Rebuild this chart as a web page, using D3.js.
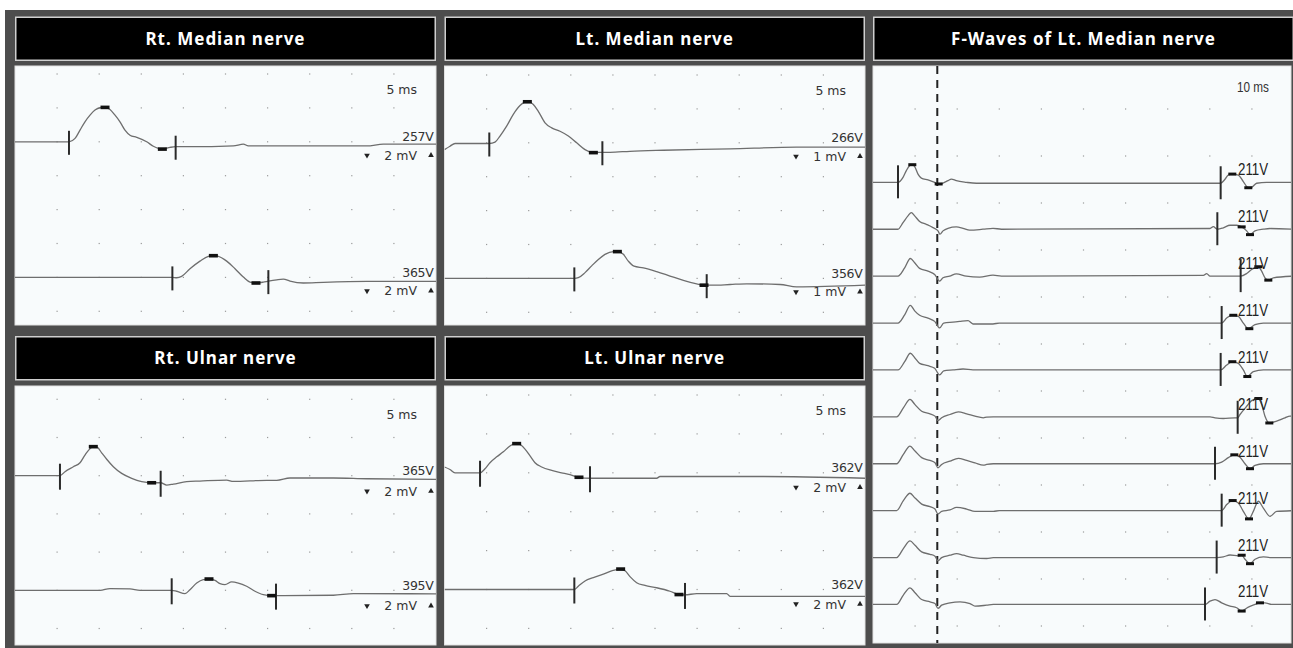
<!DOCTYPE html>
<html><head><meta charset="utf-8">
<script src="https://cdn.jsdelivr.net/npm/d3@7"></script>
<style>
html,body{margin:0;padding:0;background:#fff;}
svg{display:block;}
</style></head><body>
<svg id="chart" width="1293" height="648"></svg>
<script>
// ================= DATA =================
const panelTitles = ["Rt. Median nerve", "Lt. Median nerve", "Rt. Ulnar nerve", "Lt. Ulnar nerve", "F-Waves of Lt. Median nerve"];
const sweepLabels = ["5 ms", "5 ms", "5 ms", "5 ms", "10 ms"];

// Traces: [time ms, amplitude mV]
const rtMedianWrist = [[0,0],[6.41,0],[7.13,0.20],[7.72,0.69],[8.31,1.18],[8.91,1.57],[9.50,1.87],[10.10,2.01],[10.69,2.03],[11.28,1.91],[11.88,1.57],[12.47,1.18],[13.06,0.69],[13.66,0.39],[14.45,0.26],[15.64,0],[16.43,-0.26],[17.50,-0.43],[18.41,-0.33],[19.08,-0.29],[20.78,-0.29],[25.93,-0.24],[27.12,-0.14],[27.71,-0.24],[33.85,-0.24],[41.77,-0.24],[43.75,-0.14],[50,-0.14]];
const rtMedianElbow = [[0,0],[18.69,0],[19.20,-0.02],[19.79,0.06],[20.78,0.51],[21.97,0.96],[22.96,1.24],[23.56,1.28],[24.15,1.24],[25.14,0.96],[26.13,0.51],[27.12,0.02],[27.91,-0.28],[28.62,-0.33],[29.49,-0.28],[30.09,-0.22],[31.08,-0.14],[31.87,-0.10],[32.66,-0.22],[34.24,-0.33],[36.62,-0.29],[41.77,-0.24],[50,-0.24]];
const ltMedianWrist = [[0,-0.20],[0.65,-0.10],[1.25,-0.02],[5.32,-0.02],[6.00,0.02],[6.59,0.20],[7.38,0.49],[8.17,0.84],[8.97,1.10],[9.56,1.20],[10.08,1.21],[10.55,1.13],[11.14,0.93],[11.94,0.59],[12.73,0.44],[13.72,0.34],[14.71,0.20],[15.70,0],[16.69,-0.20],[17.68,-0.29],[18.75,-0.28],[19.66,-0.28],[22.03,-0.25],[25.99,-0.22],[33.91,-0.18],[41.82,-0.13],[50,-0.13]];
const ltMedianElbow = [[0,0],[15.42,0],[15.89,0.02],[16.69,0.17],[17.48,0.37],[18.27,0.56],[19.06,0.71],[20.05,0.79],[20.64,0.79],[21.24,0.71],[21.83,0.51],[22.51,0.36],[23.62,0.31],[25.20,0.20],[26.78,0.07],[28.37,-0.06],[29.95,-0.16],[30.82,-0.20],[31.93,-0.20],[33.91,-0.18],[35.89,-0.16],[39.85,-0.18],[41.82,-0.25],[50,-0.20]];
const rtUlnarWrist = [[0,0],[5.34,0],[5.94,0.21],[6.93,0.47],[7.72,0.68],[8.31,1.08],[8.83,1.38],[9.30,1.52],[9.78,1.48],[10.29,1.20],[10.89,0.86],[11.68,0.47],[12.67,0.12],[13.86,-0.14],[15.04,-0.31],[16.23,-0.37],[17.30,-0.37],[18.01,-0.49],[18.81,-0.44],[20.39,-0.31],[21.97,-0.28],[25.14,-0.23],[25.93,-0.30],[29.89,-0.24],[31.08,-0.24],[32.66,-0.12],[37.81,-0.12],[41.77,-0.16],[50,-0.19]];
const rtUlnarElbow = [[0,0],[10.10,0],[11.28,0.09],[13.66,0.07],[14.85,0],[18.61,0],[19.20,-0.05],[20.19,-0.17],[20.78,0.03],[21.58,0.38],[22.37,0.56],[23.08,0.59],[23.75,0.52],[24.35,0.35],[24.94,0.30],[25.73,0.44],[26.52,0.38],[27.51,0.21],[28.50,-0.05],[29.49,-0.23],[30.48,-0.28],[31.00,-0.28],[31.87,-0.28],[37.81,-0.26],[40.19,-0.17],[50,-0.19]];
const ltUlnarWrist = [[0,0.30],[0.65,0.17],[1.25,0],[4.22,0],[4.81,0.21],[5.40,0.52],[6.20,0.82],[6.99,1.08],[7.78,1.38],[8.37,1.50],[8.89,1.47],[9.56,1.22],[10.16,0.87],[10.75,0.52],[11.54,0.30],[12.73,0.12],[13.91,0],[14.90,-0.10],[15.97,-0.23],[17.28,-0.28],[25.20,-0.28],[25.59,-0.19],[37.87,-0.19],[50,-0.28]];
const ltUlnarElbow = [[0,0],[15.42,0],[15.89,0.17],[16.69,0.44],[17.68,0.61],[18.86,0.79],[19.85,0.96],[20.84,1.05],[21.44,0.96],[22.03,0.66],[22.82,0.35],[23.81,0.21],[25.20,0.09],[26.78,-0.09],[27.85,-0.26],[28.56,-0.28],[29.95,-0.21],[33.51,-0.21],[33.91,-0.35],[50,-0.35]];

// Cursors (onset / end) and peak markers: [time ms, amplitude mV]
const rtMedianCursors = [[[6.41,0],[19.08,-0.29]], [[18.69,0],[30.09,-0.22]]];
const rtMedianPeaks   = [[[10.69,2.03],[17.50,-0.43]], [[23.56,1.28],[28.62,-0.33]]];
const ltMedianCursors = [[[5.32,-0.02],[18.75,-0.28]], [[15.42,0],[31.14,-0.20]]];
const ltMedianPeaks   = [[[9.84,1.21],[17.68,-0.29]], [[20.53,0.79],[30.82,-0.20]]];
const rtUlnarCursors  = [[[5.34,0],[17.30,-0.37]], [[18.61,0],[31.00,-0.28]]];
const rtUlnarPeaks    = [[[9.30,1.52],[16.23,-0.37]], [[23.04,0.59],[30.48,-0.28]]];
const ltUlnarCursors  = [[[4.22,0],[17.28,-0.28]], [[15.42,0],[28.56,-0.28]]];
const ltUlnarPeaks    = [[[8.57,1.50],[15.97,-0.23]], [[20.92,1.05],[27.85,-0.26]]];

// Trace labels and gains (mV/div)
const rtMedianLabels = ["257V", "365V"];
const ltMedianLabels = ["266V", "356V"];
const rtUlnarLabels  = ["365V", "395V"];
const ltUlnarLabels  = ["362V", "362V"];
const rtMedianGains = [2, 2];
const ltMedianGains = [1, 1];
const rtUlnarGains  = [2, 2];
const ltUlnarGains  = [2, 2];

// F-wave traces: [time ms, amplitude µV], 200 µV/div, 10 ms/div
const f1 = [[0,0],[5.94,0],[7.13,21],[7.92,50],[8.71,71],[9.34,75],[9.90,67],[10.69,35],[11.48,18],[13.06,10],[14.65,0],[15.60,-7],[16.63,-3],[17.81,7],[18.61,14],[19.79,7],[22.17,0],[24.54,-4],[82.58,-4],[83.61,13],[84.40,31],[85.35,35],[86.77,31],[87.96,3],[89.15,-23],[89.94,-21],[91.13,-4],[93.50,0],[100,0]];
const f2 = [[0,0],[5.94,0],[7.13,28],[8.31,57],[9.11,71],[9.90,57],[11.08,33],[12.67,21],[14.25,7],[15.44,-7],[15.91,-21],[16.63,-7],[17.81,4],[19.79,10],[21.38,4],[22.96,-4],[26.13,0],[28.5,4],[30.5,0],[80.05,3],[80.84,11],[81.79,0],[83.21,6],[84.80,17],[86.38,17],[87.57,10],[88.76,-7],[89.55,-23],[90.74,-7],[92.72,0],[94.30,3],[100,0]];
const f3 = [[0,0],[5.94,0],[7.52,35],[8.87,75],[9.90,57],[11.08,33],[13.06,21],[14.65,7],[15.84,-21],[16.63,-7],[18.21,0],[19.79,10],[22.17,0],[25.34,-4],[28.5,4],[30.5,0],[78.47,3],[79.26,11],[80.05,0],[87.33,0],[88.76,11],[89.94,28],[91.53,40],[92.32,21],[93.11,-7],[93.90,-17],[95.09,-7],[100,0]];
const f4 = [[0,0],[5.94,0],[7.52,35],[8.87,75],[9.90,52],[11.08,33],[13.06,21],[14.65,7],[15.84,-21],[16.79,0],[19.00,4],[20.59,7],[22.57,10],[23.75,-4],[28.5,-4],[30,0],[82.82,0],[84.01,21],[85.20,33],[86.77,28],[87.96,0],[89.15,-24],[90.74,-7],[92.72,0],[100,0]];
const f5 = [[0,0],[5.94,0],[7.52,35],[8.87,71],[9.90,52],[11.08,28],[13.06,18],[14.65,7],[15.84,-21],[16.79,-4],[19.00,0],[21.38,4],[23.75,0],[82.58,0],[84.01,21],[85.35,35],[86.77,28],[87.96,0],[88.91,-28],[90.34,-7],[92.72,0],[100,0]];
const f6 = [[0,0],[5.62,0],[7.21,38],[8.79,74],[9.98,52],[11.56,24],[13.54,13],[14.73,3],[15.44,-16],[16.31,-4],[18.29,10],[20.27,21],[22.25,13],[24.23,3],[26.21,-4],[27.00,-1],[28.58,0],[80.05,0],[81.24,-4],[83.21,-7],[85.99,-4],[86.62,-4],[87.17,10],[88.76,45],[89.94,69],[91.53,78],[92.32,52],[93.11,3],[94.14,-26],[95.88,-18],[97.86,-4],[99.05,3],[100,3]];
const f7 = [[0,0],[5.62,0],[7.21,40],[8.79,75],[9.98,54],[11.56,26],[13.54,14],[14.73,4],[15.44,-17],[16.31,-3],[18.29,11],[20.27,23],[22.25,14],[24.23,4],[26.21,-6],[27.00,-3],[28.58,0],[81.24,0],[82.82,7],[84.40,26],[85.83,38],[87.17,28],[88.36,0],[89.55,-21],[90.74,-7],[92.72,0],[100,0]];
const f8 = [[0,0],[5.62,0],[7.21,43],[8.79,74],[9.98,54],[11.56,28],[13.54,17],[14.73,7],[15.44,-14],[16.31,-3],[18.29,3],[19.87,14],[22.25,7],[24.23,-3],[26.21,-3],[28.58,-3],[30,0],[82.82,0],[84.01,26],[85.43,43],[86.77,33],[87.96,-3],[89.31,-35],[90.34,-3],[91.53,40],[92.72,11],[94.30,-24],[95.88,-3],[100,0]];
const f9 = [[0,0],[5.62,0],[7.21,38],[8.79,71],[9.98,52],[11.56,24],[13.54,14],[14.73,6],[15.44,-14],[16.31,0],[18.29,10],[19.87,17],[21.46,10],[23.83,0],[27.00,-4],[28.58,0],[81.63,0],[83.21,3],[84.80,11],[86.77,7],[87.57,10],[88.36,-7],[89.55,-26],[90.74,-7],[92.72,3],[94.30,0],[100,0]];
const f10 = [[0,0],[5.62,0],[7.21,40],[8.79,71],[9.98,50],[11.56,21],[13.54,11],[14.73,4],[15.44,-17],[16.31,-3],[18.29,7],[20.67,11],[23.04,4],[24.23,-7],[27.00,-3],[28.58,0],[78.86,0],[80.05,14],[81.24,21],[82.82,7],[84.80,-7],[86.38,-14],[87.57,-28],[89.15,-11],[90.74,0],[91.92,7],[93.11,7],[94.70,0],[100,0]];
const fWaveTraces = [f1, f2, f3, f4, f5, f6, f7, f8, f9, f10];
const fWaveCursors = [[[5.94,0],[82.58,-4]], [[81.79,0]], [[87.33,0]], [[82.82,0]], [[82.58,0]], [[86.62,-4]], [[81.24,0]], [[82.82,0]], [[81.63,0]], [[78.86,0]]];
const fWavePeaks = [[[9.34,75],[15.60,-7],[85.35,35],[89.15,-23]], [[87.57,10],[89.55,-23]], [[91.53,40],[93.90,-17]], [[85.59,33],[89.39,-24]], [[85.35,35],[88.91,-28]], [[91.53,78],[94.14,-26]], [[85.83,38],[89.55,-21]], [[85.43,43],[89.31,-35]], [[87.57,10],[89.55,-26]], [[87.57,-28],[91.92,7]]];
const fWaveLabels = ["211V","211V","211V","211V","211V","211V","211V","211V","211V","211V"];
const fWaveGain = 200;          // µV/div
const fWaveLatency = 15.27;     // ms, dashed cursor

// ================= DRAWING =================
const svg = d3.select("#chart");
const defs = svg.append("defs");
svg.append("rect").attr("x", 5).attr("y", 10).attr("width", 1288).attr("height", 638).attr("fill", "#4d4d4d");

function header(x0, x1, y0, y1, title) {
  svg.append("rect").attr("x", x0 + 0.75).attr("y", y0 + 0.75)
    .attr("width", x1 - x0 - 1.5).attr("height", y1 - y0 - 1.5)
    .attr("fill", "#000").attr("stroke", "#cfcfcf").attr("stroke-width", 1.5);
  svg.append("text").attr("x", (x0 + x1) / 2).attr("y", (y0 + y1) / 2 + 6)
    .attr("text-anchor", "middle").attr("fill", "#fff")
    .attr("font-family", "'Noto Sans', sans-serif").attr("font-weight", "bold")
    .attr("font-size", 17).attr("letter-spacing", 1).text(title);
}

function plotArea(id, x0, x1, y0, y1) {
  svg.append("rect").attr("x", x0).attr("y", y0).attr("width", x1 - x0).attr("height", y1 - y0)
    .attr("fill", "#f8fbfc").attr("stroke", "#e2e2e2").attr("stroke-width", 1);
  defs.append("clipPath").attr("id", id).append("rect")
    .attr("x", x0).attr("y", y0).attr("width", x1 - x0).attr("height", y1 - y0);
  return svg.append("g").attr("clip-path", `url(#${id})`);
}

const textFont = "'DejaVu Sans', sans-serif";
const nervePanels = [
  { id: "p0", title: panelTitles[0], sweep: sweepLabels[0], x0: 15, x1: 436, hy0: 16.5, hy1: 61, py0: 66, py1: 325, row0: 74, step: 33.9, nRows: 8, baseRows: [2, 6], gainDy: 18,
    traces: [rtMedianWrist, rtMedianElbow], cursors: rtMedianCursors, peaks: rtMedianPeaks, labels: rtMedianLabels, gains: rtMedianGains, cursorLen: 24 },
  { id: "p1", title: panelTitles[1], sweep: sweepLabels[1], x0: 444.5, x1: 865, hy0: 16.5, hy1: 61, py0: 66, py1: 325, row0: 75, step: 33.9, nRows: 8, baseRows: [2, 6], gainDy: 18,
    traces: [ltMedianWrist, ltMedianElbow], cursors: ltMedianCursors, peaks: ltMedianPeaks, labels: ltMedianLabels, gains: ltMedianGains, cursorLen: 24 },
  { id: "p2", title: panelTitles[2], sweep: sweepLabels[2], x0: 15, x1: 436, hy0: 336, hy1: 380.5, py0: 386, py1: 645, row0: 399.3, step: 38.2, nRows: 7, baseRows: [2, 5], gainDy: 20,
    traces: [rtUlnarWrist, rtUlnarElbow], cursors: rtUlnarCursors, peaks: rtUlnarPeaks, labels: rtUlnarLabels, gains: rtUlnarGains, cursorLen: 26 },
  { id: "p3", title: panelTitles[3], sweep: sweepLabels[3], x0: 444.5, x1: 865, hy0: 336, hy1: 380.5, py0: 386, py1: 645, row0: 395, step: 38.9, nRows: 7, baseRows: [2, 5], gainDy: 19,
    traces: [ltUlnarWrist, ltUlnarElbow], cursors: ltUlnarCursors, peaks: ltUlnarPeaks, labels: ltUlnarLabels, gains: ltUlnarGains, cursorLen: 26 }
];

nervePanels.forEach(p => {
  header(p.x0, p.x1, p.hy0, p.hy1, p.title);
  const g = plotArea(p.id, p.x0, p.x1, p.py0, p.py1);
  const x = d3.scaleLinear().domain([0, 50]).range([p.x0, p.x0 + 421]);
  const yDiv = d3.scaleLinear().domain([0, 1]).range([p.row0, p.row0 + p.step]);
  // grid dots
  const cols = d3.range(5, 50, 5), rows = d3.range(p.nRows);
  rows.forEach(r => cols.forEach(c => {
    g.append("rect").attr("x", x(c) - 0.6).attr("y", yDiv(r) - 0.6).attr("width", 1.2).attr("height", 1.2).attr("fill", "#9a9a9a");
  }));
  p.traces.forEach((tr, i) => {
    const b = p.baseRows[i], gain = p.gains[i];
    const yv = v => yDiv(b - v / gain);
    const line = d3.line().x(d => x(d[0])).y(d => yv(d[1])).curve(d3.curveMonotoneX);
    g.append("path").attr("d", line(tr)).attr("fill", "none").attr("stroke", "#6e6e6e").attr("stroke-width", 1.3);
    p.cursors[i].forEach(c => {
      g.append("line").attr("x1", x(c[0])).attr("x2", x(c[0]))
        .attr("y1", yv(c[1]) - p.cursorLen / 2 + 1).attr("y2", yv(c[1]) + p.cursorLen / 2 + 1)
        .attr("stroke", "#2a2a2a").attr("stroke-width", 2);
    });
    p.peaks[i].forEach(c => {
      g.append("rect").attr("x", x(c[0]) - 4.5).attr("y", yv(c[1]) - 1.8).attr("width", 9).attr("height", 3.6).attr("fill", "#111");
    });
    const by = yDiv(b);
    g.append("text").attr("x", p.x1 - 2.5).attr("y", by - 0.5).attr("text-anchor", "end")
      .attr("font-family", textFont).attr("font-size", 12.5).attr("fill", "#333").attr("letter-spacing", -0.3).text(p.labels[i]);
    g.append("text").attr("x", p.x1 - 19).attr("y", by + p.gainDy).attr("text-anchor", "end")
      .attr("font-family", textFont).attr("font-size", 12.5).attr("fill", "#333").text(gain + " mV");
    const ty = by + p.gainDy - 4.5;
    g.append("path").attr("d", d3.symbol(d3.symbolTriangle, 14)()).attr("transform", `translate(${p.x1 - 69},${ty}) rotate(180)`).attr("fill", "#222");
    g.append("path").attr("d", d3.symbol(d3.symbolTriangle, 14)()).attr("transform", `translate(${p.x1 - 5},${ty})`).attr("fill", "#222");
  });
  g.append("text").attr("x", p.x1 - 19).attr("y", p.row0 + 20).attr("text-anchor", "end")
    .attr("font-family", textFont).attr("font-size", 12.5).attr("fill", "#333").text(p.sweep);
});

// ---- F-wave panel ----
(function () {
  const x0 = 873, x1 = 1291, py0 = 66, py1 = 643;
  header(x0, 1294, 16.5, 61, panelTitles[4]);
  const g = plotArea("pf", x0, x1, py0, py1);
  const x = d3.scaleLinear().domain([0, 100]).range([x0, x0 + 421]);
  const yDiv = d3.scaleLinear().domain([0, 1]).range([109, 156]);
  d3.range(12).forEach(r => d3.range(10, 100, 10).forEach(c => {
    g.append("rect").attr("x", x(c) - 0.6).attr("y", yDiv(r) - 0.6).attr("width", 1.2).attr("height", 1.2).attr("fill", "#9a9a9a");
  }));
  g.append("line").attr("x1", x(fWaveLatency)).attr("x2", x(fWaveLatency)).attr("y1", py0).attr("y2", py1)
    .attr("stroke", "#222").attr("stroke-width", 2).attr("stroke-dasharray", "8,6");
  fWaveTraces.forEach((tr, i) => {
    const b = 1.56 + i * 0.998;
    const yv = v => yDiv(b - v / fWaveGain);
    const line = d3.line().x(d => x(d[0])).y(d => yv(d[1])).curve(d3.curveMonotoneX);
    g.append("path").attr("d", line(tr)).attr("fill", "none").attr("stroke", "#6e6e6e").attr("stroke-width", 1.3);
    fWaveCursors[i].forEach(c => {
      g.append("line").attr("x1", x(c[0])).attr("x2", x(c[0])).attr("y1", yv(c[1]) - 17).attr("y2", yv(c[1]) + 16)
        .attr("stroke", "#2a2a2a").attr("stroke-width", 2);
    });
    fWavePeaks[i].forEach(c => {
      g.append("rect").attr("x", x(c[0]) - 4).attr("y", yv(c[1]) - 1.5).attr("width", 8).attr("height", 3).attr("fill", "#111");
    });
    g.append("text").attr("x", 1238).attr("y", yDiv(b) - 7)
      .attr("font-family", "'Liberation Sans', Arial, sans-serif").attr("font-size", 17).attr("fill", "#222")
      .attr("textLength", 30).attr("lengthAdjust", "spacingAndGlyphs").text(fWaveLabels[i]);
  });
  g.append("text").attr("x", 1237).attr("y", 91.5)
    .attr("font-family", "'Liberation Sans', Arial, sans-serif").attr("font-size", 14).attr("fill", "#333")
    .attr("textLength", 32).attr("lengthAdjust", "spacingAndGlyphs").text(sweepLabels[4]);
})();
</script>
</body></html>
